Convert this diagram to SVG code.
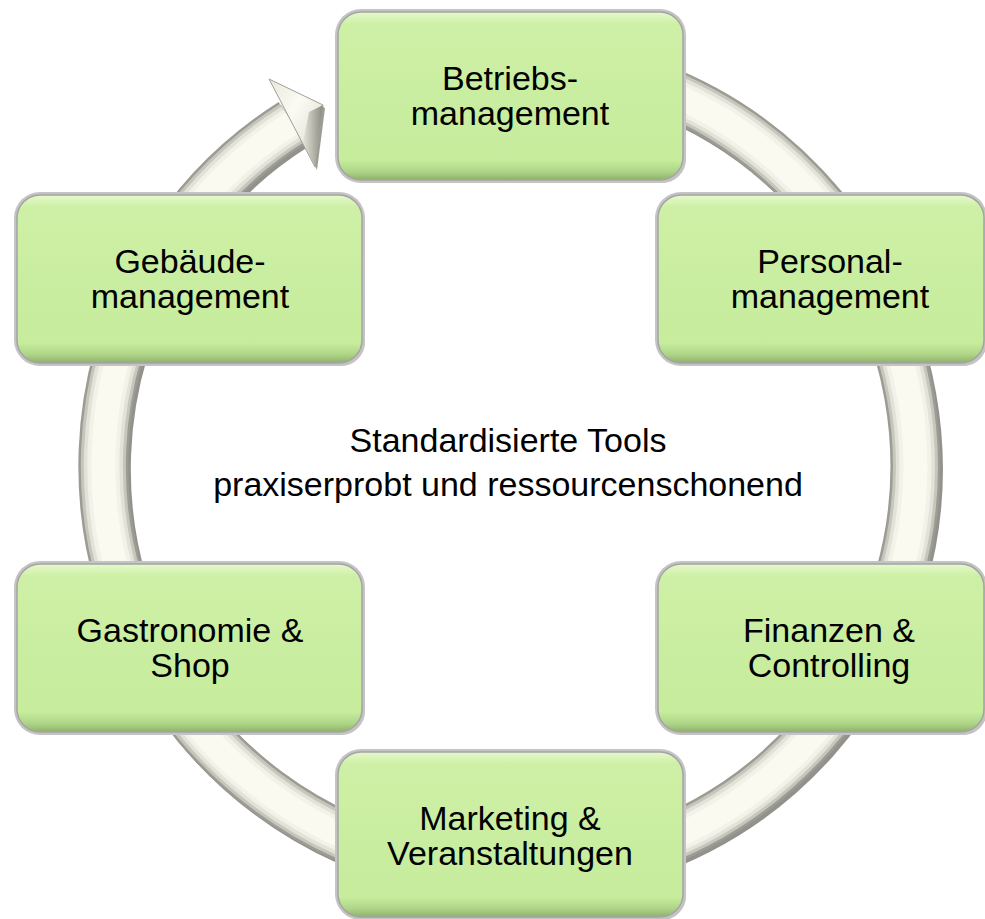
<svg xmlns="http://www.w3.org/2000/svg" width="985" height="919" viewBox="0 0 985 919">
  <defs>
    <linearGradient id="gfill" x1="0" y1="0" x2="0" y2="1">
      <stop offset="0" stop-color="#e6f9cc"/>
      <stop offset="0.07" stop-color="#cef0a6"/>
      <stop offset="0.88" stop-color="#c6ec9c"/>
      <stop offset="0.95" stop-color="#aed487"/>
      <stop offset="1" stop-color="#8fb16b"/>
    </linearGradient>
    <linearGradient id="headface" x1="0" y1="0" x2="1" y2="1">
      <stop offset="0" stop-color="#e8e8dc"/>
      <stop offset="0.4" stop-color="#fbfbf3"/>
      <stop offset="1" stop-color="#d6d6ca"/>
    </linearGradient>
    <linearGradient id="headside" x1="0" y1="0" x2="1" y2="0">
      <stop offset="0" stop-color="#e4e4d8"/>
      <stop offset="1" stop-color="#8a8a82"/>
    </linearGradient>
  </defs>
  <style>
    .lbl { font-family: "Liberation Sans", Arial, sans-serif; font-size: 34px; fill: #000; text-anchor: middle; }
    .shadow { fill: #8c8c8c; opacity: 0.55; }
    .rim { fill: #c4c4c4; }
    .box { fill: url(#gfill); stroke: #a4a4a4; stroke-width: 1.5; }
    .tube { fill: none; stroke-linecap: butt; }
  </style>
  <rect width="985" height="919" fill="#ffffff"/>

  <g id="connectors">
    <!-- ring shadow -->
    <path class="tube" d="M 473.6 61.5 A 406 406 0 1 1 292 123" transform="translate(2.5,3)" stroke="#6e6e66" stroke-width="50" opacity="0.75"/>
    <path class="tube" d="M 473.6 61.5 A 406 406 0 1 1 292 123" stroke="#9c9c94" stroke-width="50"/>
    <path class="tube" d="M 473.6 61.5 A 406 406 0 1 1 292 123" stroke="#c6c6bc" stroke-width="45"/>
    <path class="tube" d="M 473.6 61.5 A 406 406 0 1 1 292 123" stroke="#e2e2d8" stroke-width="39"/>
    <path class="tube" d="M 473.6 61.5 A 406 406 0 1 1 292 123" stroke="#f2f2e8" stroke-width="32"/>
    <path class="tube" d="M 473.6 61.5 A 406 406 0 1 1 292 123" stroke="#fafaf0" stroke-width="24"/>
    <!-- arrowhead -->
    <polygon points="269,79 323,105 315,167" transform="translate(2,3)" fill="#707068" opacity="0.7"/>
    <polygon points="269,79 323,105 315,167" fill="url(#headface)" stroke="#a0a098" stroke-width="1"/>
    <polygon points="323,105 315,167 303,142 309,112" fill="url(#headside)"/>
  </g>

  <g id="node-betrieb">
    <rect class="shadow" x="341" y="15" width="345" height="168" rx="24"/>
    <rect class="rim" x="335" y="9" width="351" height="174" rx="26"/>
    <rect class="box" x="338" y="12" width="345" height="168" rx="23"/>
    <text class="lbl" x="510" y="90">Betriebs-</text>
    <text class="lbl" x="510" y="125">management</text>
  </g>

  <g id="node-personal">
    <rect class="shadow" x="661" y="198" width="326" height="168" rx="24"/>
    <rect class="rim" x="655" y="192" width="332" height="174" rx="26"/>
    <rect class="box" x="658" y="195" width="326" height="168" rx="23"/>
    <text class="lbl" x="830" y="273">Personal-</text>
    <text class="lbl" x="830" y="308">management</text>
  </g>

  <g id="node-finanzen">
    <rect class="shadow" x="661" y="567" width="326" height="168" rx="24"/>
    <rect class="rim" x="655" y="561" width="332" height="174" rx="26"/>
    <rect class="box" x="658" y="564" width="326" height="168" rx="23"/>
    <text class="lbl" x="829" y="642">Finanzen &amp;</text>
    <text class="lbl" x="829" y="677">Controlling</text>
  </g>

  <g id="node-marketing">
    <rect class="shadow" x="341" y="755" width="345" height="165" rx="24"/>
    <rect class="rim" x="335" y="749" width="351" height="171" rx="26"/>
    <rect class="box" x="338" y="752" width="345" height="165" rx="23"/>
    <text class="lbl" x="510" y="830">Marketing &amp;</text>
    <text class="lbl" x="510" y="865">Veranstaltungen</text>
  </g>

  <g id="node-gastro">
    <rect class="shadow" x="20" y="567" width="345" height="168" rx="24"/>
    <rect class="rim" x="14" y="561" width="351" height="174" rx="26"/>
    <rect class="box" x="17" y="564" width="345" height="168" rx="23"/>
    <text class="lbl" x="190" y="642">Gastronomie &amp;</text>
    <text class="lbl" x="190" y="677">Shop</text>
  </g>

  <g id="node-gebaeude">
    <rect class="shadow" x="20" y="198" width="345" height="168" rx="24"/>
    <rect class="rim" x="14" y="192" width="351" height="174" rx="26"/>
    <rect class="box" x="17" y="195" width="345" height="168" rx="23"/>
    <text class="lbl" x="190" y="273">Gebäude-</text>
    <text class="lbl" x="190" y="308">management</text>
  </g>

  <g id="center-text">
    <text class="lbl" x="508" y="452">Standardisierte Tools</text>
    <text class="lbl" x="508" y="496">praxiserprobt und ressourcenschonend</text>
  </g>
</svg>
